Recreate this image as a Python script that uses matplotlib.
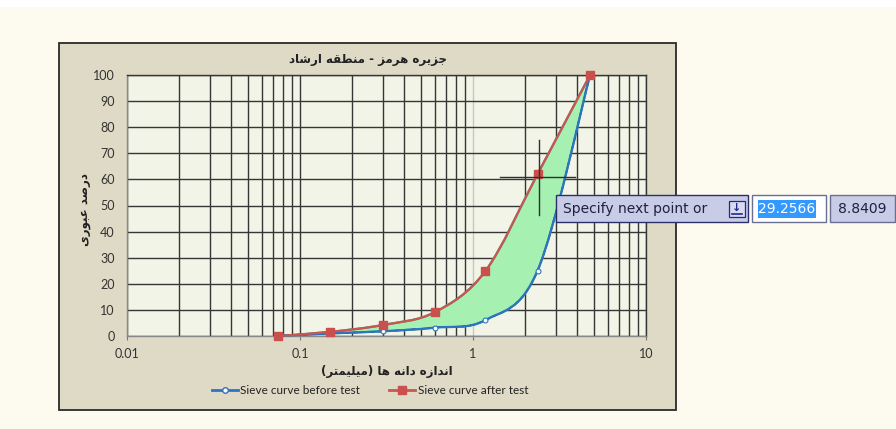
# grain size distribution, before / after test (Excel-style chart with CAD overlay)
import numpy as np
import matplotlib
matplotlib.use('Agg')
import matplotlib.pyplot as plt
from matplotlib.path import Path
from matplotlib.patches import PathPatch, Rectangle
from matplotlib.lines import Line2D
from matplotlib.ticker import FixedLocator, FixedFormatter, LogLocator, NullFormatter

# data
sieve_mm     = [0.075, 0.15, 0.3, 0.6, 1.18, 2.36, 4.75]
pass_before  = [0.0, 1.0, 1.8, 3.2, 6.1, 25.0, 100.0]
pass_after   = [0.0, 1.6, 4.2, 9.1, 24.9, 62.0, 100.0]
x_ticks      = [0.01, 0.1, 1, 10]
x_ticklabels = ['0.01', '0.1', '1', '10']
y_ticks      = list(range(0, 101, 10))

title_txt  = 'جزیره هرمز - منطقه ارشاد'
ylabel_txt = 'درصد عبوری'
xlabel_txt = 'اندازه دانه ها (میلیمتر)'
legend_txt = ['Sieve curve before test', 'Sieve curve after test']
cad_prompt = 'Specify next point or'
cad_values = ['29.2566', '8.8409']

# simple persian shaping (presentation forms), no external reshaper available
FORMS = {
    'ا': ('\uFE8D', '\uFE8E', None, None),
    'د': ('\uFEA9', '\uFEAA', None, None),
    'ر': ('\uFEAD', '\uFEAE', None, None),
    'ز': ('\uFEAF', '\uFEB0', None, None),
    'و': ('\uFEED', '\uFEEE', None, None),
    'ب': ('\uFE8F', '\uFE90', '\uFE91', '\uFE92'),
    'ت': ('\uFE95', '\uFE96', '\uFE97', '\uFE98'),
    'ج': ('\uFE9D', '\uFE9E', '\uFE9F', '\uFEA0'),
    'ش': ('\uFEB5', '\uFEB6', '\uFEB7', '\uFEB8'),
    'ص': ('\uFEB9', '\uFEBA', '\uFEBB', '\uFEBC'),
    'ط': ('\uFEC1', '\uFEC2', '\uFEC3', '\uFEC4'),
    'ع': ('\uFEC9', '\uFECA', '\uFECB', '\uFECC'),
    'ق': ('\uFED5', '\uFED6', '\uFED7', '\uFED8'),
    'ل': ('\uFEDD', '\uFEDE', '\uFEDF', '\uFEE0'),
    'م': ('\uFEE1', '\uFEE2', '\uFEE3', '\uFEE4'),
    'ن': ('\uFEE5', '\uFEE6', '\uFEE7', '\uFEE8'),
    'ه': ('\uFEE9', '\uFEEA', '\uFEEB', '\uFEEC'),
    'ی': ('\uFBFC', '\uFBFD', '\uFBFE', '\uFBFF'),
}

def fa(s):
    out = []
    for i, ch in enumerate(s):
        if ch not in FORMS:
            out.append(ch)
            continue
        iso, fin, ini, med = FORMS[ch]
        prev = s[i-1] if i > 0 else ''
        nxt = s[i+1] if i + 1 < len(s) else ''
        jp = prev in FORMS and FORMS[prev][2] is not None
        jn = ini is not None and nxt in FORMS
        if jp and jn:
            out.append(med)
        elif jp:
            out.append(fin)
        elif jn:
            out.append(ini)
        else:
            out.append(iso)
    return ''.join(reversed(out)).translate(str.maketrans('()', ')('))

# excel-like smoothed line as bezier, built in (log x, y) space
def smooth(xs, ys):
    lx = np.log10(xs)
    y = np.asarray(ys, float)
    n = len(lx)
    verts = [(xs[0], ys[0])]
    codes = [Path.MOVETO]
    for i in range(n-1):
        i0 = max(i-1, 0)
        i3 = min(i+2, n-1)
        c1 = (10**(lx[i] + (lx[i+1]-lx[i0])/6.0), y[i] + (y[i+1]-y[i0])/6.0)
        c2 = (10**(lx[i+1] - (lx[i3]-lx[i])/6.0), y[i+1] - (y[i3]-y[i])/6.0)
        verts += [c1, c2, (xs[i+1], ys[i+1])]
        codes += [Path.CURVE4]*3
    return verts, codes

W, H = 896, 429
def px(x): return x/W
def py(y): return 1.0 - y/H

plt.rc('font', family=['Lato', 'DejaVu Sans'])
fig = plt.figure(figsize=(W/100, H/100), dpi=100, facecolor='#FDFBF0')

# white strip on top, chart panel
fig.patches.append(Rectangle((0, py(7)), 1, 7/H, transform=fig.transFigure,
                             facecolor='white', edgecolor='none', zorder=-2))
fig.patches.append(Rectangle((px(59), py(410)), (676-59)/W, (410-43)/H,
                             transform=fig.transFigure, facecolor='#DEDAC6',
                             edgecolor='#2A2A2A', lw=1.3, zorder=-1))

ax = fig.add_axes([px(127), py(336), (646-127)/W, (336-75)/H])
ax.set_zorder(1)
ax.set_facecolor('#F1F4E6')
ax.set_xscale('log')
ax.set_xlim(0.01, 10)
ax.set_ylim(0, 100)

# grid
ax.xaxis.set_major_locator(FixedLocator(x_ticks))
ax.xaxis.set_major_formatter(FixedFormatter(x_ticklabels))
ax.xaxis.set_minor_locator(LogLocator(base=10, subs=np.arange(2, 10)))
ax.xaxis.set_minor_formatter(NullFormatter())
ax.set_yticks(y_ticks)
ax.grid(which='both', axis='x', color='#363636', lw=1.0)
ax.grid(which='major', axis='y', color='#363636', lw=1.0)
ax.tick_params(axis='x', which='minor', length=0)
ax.tick_params(axis='x', which='major', length=3, color='#777777', pad=6,
               labelsize=9, labelcolor='#333333')
ax.tick_params(axis='y', length=0, pad=9, labelsize=9, labelcolor='#333333')
ax.xaxis.get_gridlines()[2].set_color('#C8C8C0')
for s in ax.spines.values():
    s.set_color('#363636')
    s.set_linewidth(1.0)
ax.spines['left'].set_color('#888888')
ax.spines['bottom'].set_color('#888888')
ax.set_axisbelow(True)

# filled band between curves
vr, cr = smooth(sieve_mm, pass_after)
vb, cb = smooth(sieve_mm, pass_before)
band_v = vr + vb[::-1] + [vr[0]]
band_c = cr + [Path.LINETO] + [Path.CURVE4]*(len(vb)-1) + [Path.CLOSEPOLY]
ax.add_patch(PathPatch(Path(band_v, band_c), facecolor='#A6F0B2',
                       edgecolor='#2A9C9C', lw=1.6, zorder=2))

# dashed helper line under the before curve
ax.add_patch(PathPatch(Path(vb, cb), facecolor='none', edgecolor='black',
                       lw=1.0, ls=(0, (3, 3)), zorder=2.5, clip_on=False))

# curves
ax.add_patch(PathPatch(Path(vb, cb), facecolor='none', edgecolor='#2F73C2',
                       lw=1.5, zorder=3, clip_on=False))
ax.plot(sieve_mm, pass_before, ls='none', marker='o', ms=3.5, mfc='white',
        mec='#2F73C2', mew=0.8, zorder=4, clip_on=False)
ax.add_patch(PathPatch(Path(vr, cr), facecolor='none', edgecolor='#C9564F',
                       lw=1.6, zorder=3, clip_on=False))
ax.plot(sieve_mm, pass_after, ls='none', marker='s', ms=6, mfc='#C9504C',
        mec='#C9504C', zorder=4, clip_on=False)

# texts
fig.text(px(368), py(60), fa(title_txt), ha='center', va='center',
         fontsize=8.5, fontweight='bold', family=['DejaVu Sans'], color='#222222')
fig.text(px(84), py(210), fa(ylabel_txt), ha='center', va='center',
         rotation=90, fontsize=8.5, fontweight='bold', family=['DejaVu Sans'],
         color='#222222')
fig.text(px(387), py(372), fa(xlabel_txt), ha='center', va='center',
         fontsize=8.5, fontweight='bold', family=['DejaVu Sans'], color='#222222')

handles = [Line2D([], [], color='#2F73C2', lw=2, marker='o', ms=4, mfc='white',
                  mec='#2F73C2'),
           Line2D([], [], color='#C9564F', lw=2, marker='s', ms=6, mfc='#C9504C',
                  mec='#C9504C')]
fig.legend(handles, legend_txt, loc='center', bbox_to_anchor=(px(370), py(391)),
           ncol=2, frameon=False, fontsize=8.5, handlelength=2.2,
           handletextpad=0.2, columnspacing=2.5, labelcolor='#222222')

# CAD cursor and dynamic input overlay
fig.add_artist(Line2D([px(500), px(575)], [py(177), py(177)], color='#303030',
                      lw=1.0, transform=fig.transFigure, zorder=6))
fig.add_artist(Line2D([px(539), px(539)], [py(140), py(215)], color='#303030',
                      lw=1.0, transform=fig.transFigure, zorder=6))

def box(x0, y0, x1, y1, fc, ec='#2B2F6A', lw=1.0):
    fig.patches.append(Rectangle((px(x0), py(y1)), (x1-x0)/W, (y1-y0)/H,
                                 transform=fig.transFigure, facecolor=fc,
                                 edgecolor=ec, lw=lw, zorder=7))

box(556, 195, 748, 222, '#C9CCE6')
fig.text(px(563), py(209), cad_prompt, ha='left', va='center', fontsize=10,
         family=['DejaVu Sans'], color='#202040', zorder=8)
box(729, 201, 745, 217, '#D8DAF0', ec='#1F2A8A', lw=0.9)
fig.text(px(737), py(208), '\u2193', ha='center', va='center', fontsize=8,
         family=['DejaVu Sans'], color='#1F2A8A', fontweight='bold', zorder=8)
fig.add_artist(Line2D([px(732), px(742)], [py(214), py(214)], color='#1F2A8A',
                      lw=1.2, transform=fig.transFigure, zorder=8))
box(752, 195, 826, 222, 'white', ec='#6A6E90')
box(758, 200, 816, 218, '#3399FF', ec='none', lw=0)
fig.text(px(787), py(209), cad_values[0], ha='center', va='center', fontsize=10,
         family=['DejaVu Sans'], color='white', zorder=8)
box(830, 195, 895, 222, '#C9CCE6', ec='#6A6E90')
fig.text(px(862), py(209), cad_values[1], ha='center', va='center', fontsize=10,
         family=['DejaVu Sans'], color='#202040', zorder=8)

fig.savefig('out.png', dpi=100, facecolor=fig.get_facecolor())
